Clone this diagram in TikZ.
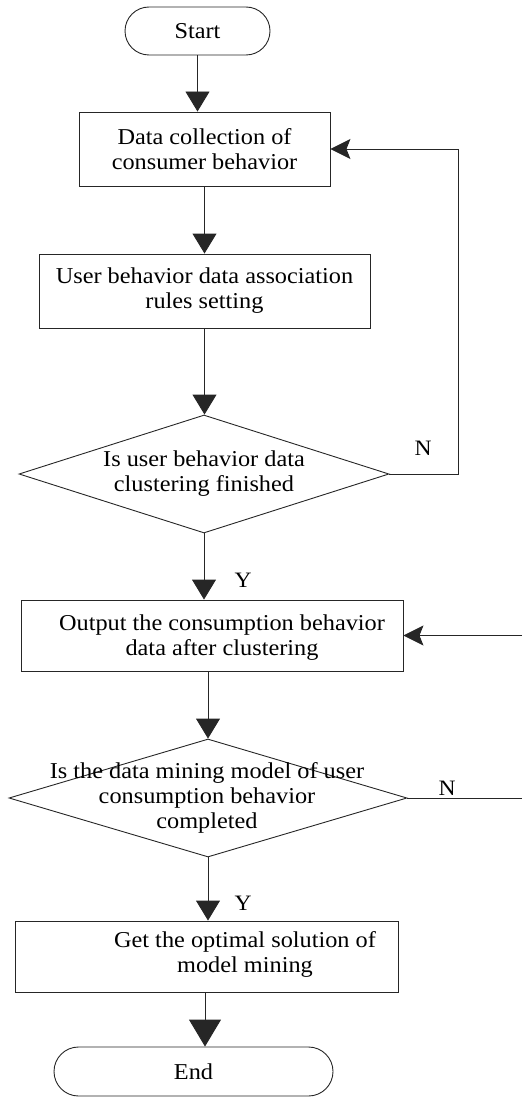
\documentclass[tikz,border=0pt]{standalone}
\usepackage{fontspec}
\setmainfont{Liberation Serif}[FakeStretch=1.07]
\usetikzlibrary{arrows.meta,shapes.geometric,shapes.misc}
\begin{document}
\begin{tikzpicture}[x=1pt,y=-1pt,
  every node/.style={font=\fontsize{22.7}{25}\selectfont, inner sep=0pt},
  ln/.style={line width=0.9pt, draw=black!85},
  procbox/.style={ln, rectangle, align=center},
  termbox/.style={ln, rounded rectangle},
  decbox/.style={ln, diamond},
  txt/.style={align=center},
  arr/.style={ln, -{Triangle[width=24pt,length=20pt]}},
  arrbig/.style={ln, -{Triangle[width=32pt,length=27pt]}},
  arrleft/.style={ln, -{Stealth[width=20pt,length=20pt,inset=4pt]}},
  lbl/.style={font=\fontsize{22}{24}\selectfont}
]
\useasboundingbox (0,0) rectangle (522,1097);

% terminals
\node[termbox, minimum width=145pt, minimum height=48pt] (start) at (197.5,31) {Start};
\node[termbox, minimum width=279pt, minimum height=49pt] (end) at (193.5,1071.5) {End};

% process boxes
\node[procbox, minimum width=251pt, minimum height=74pt] (box1) at (204.5,149)
  {Data collection of\\consumer behavior};
\node[procbox, minimum width=331pt, minimum height=74pt] (box2) at (204.5,291)
  {User behavior data association\\rules setting};
\node[procbox, minimum width=382pt, minimum height=71pt] (box3) at (212,635.5) {};
\node[txt] (t3) at (222,638) {Output the consumption behavior\\data after clustering};
\node[procbox, minimum width=383pt, minimum height=71pt] (box4) at (206.5,956.5) {};
\node[txt] (t4) at (245,954) {Get the optimal solution of\\model mining};

% decisions
\node[decbox, minimum width=370pt, minimum height=118pt] (d1) at (204,474) {};
\node[txt] (t1) at (204,474) {Is user behavior data\\clustering finished};
\node[decbox, minimum width=398pt, minimum height=118pt] (d2) at (208,798) {};
\node[txt] (t2) at (207,798) {Is the data mining model of user\\consumption behavior\\completed};

% labels
\node[lbl] (n1) at (423,448) {N};
\node[lbl] (y1) at (243,580) {Y};
\node[lbl] (n2) at (447,788) {N};
\node[lbl] (y2) at (243,903) {Y};

% helper coordinates
\coordinate (loop1) at (458,474);
\coordinate (in3) at (522,635.5);
\coordinate (out2) at (522,798);

% connectors
\draw[arr] (start.south) -- (start.south |- box1.north);
\draw[arr] (box1.south) -- (box2.north);
\draw[arr] (box2.south) -- (box2.south |- d1.north);
\draw[arrleft] (d1.east) -- (loop1) |- (box1.east);
\draw[arr] (d1.south) -- (d1.south |- box3.north);
\draw[arrleft] (in3) -- (box3.east);
\draw[arr] (d2.north |- box3.south) -- (d2.north);
\draw[ln] (d2.east) -- (out2);
\draw[arr] (d2.south) -- (d2.south |- box4.north);
\draw[arrbig] (box4.south -| 205,0) -- (end.north -| 205,0);
\end{tikzpicture}
\end{document}
